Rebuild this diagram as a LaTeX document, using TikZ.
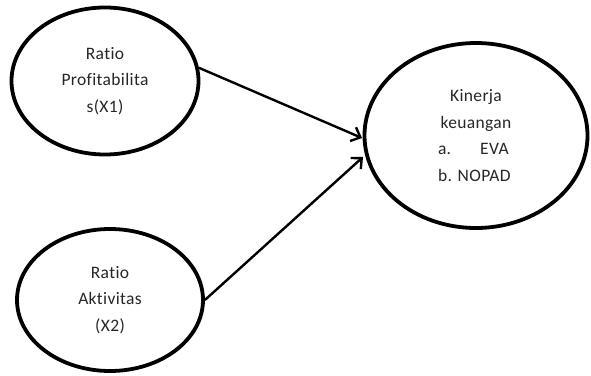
\documentclass[tikz,border=0pt]{standalone}
\usepackage{fontspec}
\setmainfont{Carlito}[Ligatures=NoCommon,LetterSpace=2]
\usetikzlibrary{shapes.geometric,arrows.meta}
\begin{document}
\begin{tikzpicture}[x=1pt,y=-1pt,
  var/.style={ellipse,draw=black,line width=3.8pt,inner sep=0pt,
    font=\fontsize{17.5}{26.5}\selectfont\color[gray]{0.15},align=center},
  link/.style={line width=2.4pt,-{Straight Barb[length=8pt,width=15pt,line width=2.4pt]}}]
\useasboundingbox (0,0) rectangle (591,375);
\node[var,minimum width=187pt,minimum height=147pt] (x1) at (105,81)
  {Ratio\\Profitabilita\\s(X1)};
\node[var,minimum width=186pt,minimum height=142pt] (x2) at (110,300)
  {Ratio\\Aktivitas\\(X2)};
\node[var,minimum width=223pt,minimum height=185pt] (y) at (476,135.5)
  {Kinerja\\keuangan\\\makebox[76pt][l]{a.\hspace{29pt}EVA}\\\makebox[76pt][l]{b. NOPAD}};
\coordinate (t1) at (362,138);
\coordinate (t2) at (363,157);
\draw[link] (x1.8) -- (t1);
\draw[link] (x2.east) -- (t2);
\end{tikzpicture}
\end{document}
